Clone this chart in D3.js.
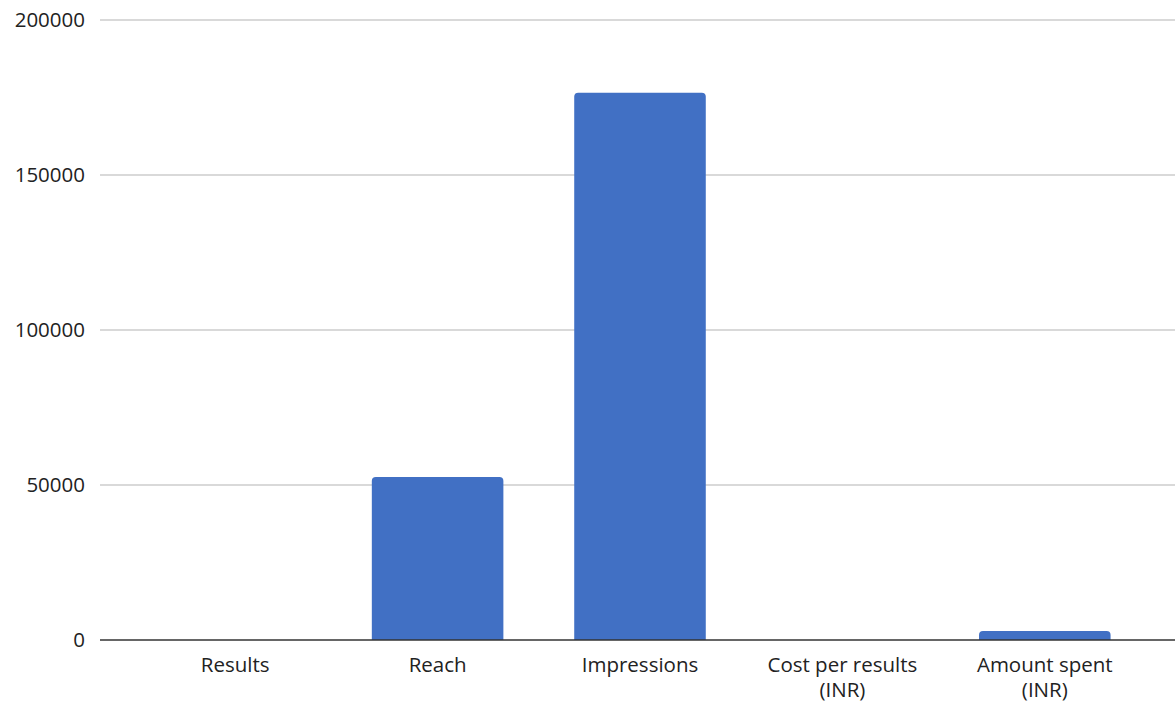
<!DOCTYPE html>
<html><head><meta charset="utf-8">
<script src="https://cdn.jsdelivr.net/npm/d3@7"></script>
<style>html,body{margin:0;padding:0;background:#fff;overflow:hidden}</style>
</head><body>
<svg id="chart" width="1175" height="702"></svg>
<script>
const categories = ["Results", "Reach", "Impressions", "Cost per results (INR)", "Amount spent (INR)"];
const categoryLines = [["Results"], ["Reach"], ["Impressions"], ["Cost per results", "(INR)"], ["Amount spent", "(INR)"]];
const values = [30, 52600, 176500, 25, 2900];
const yTicks = [0, 50000, 100000, 150000, 200000];

const svg = d3.select("#chart");
const font = "'Open Sans', sans-serif";
const fs = 20.5;
const x = d3.scaleBand().domain(categories).range([134, 1146]).paddingInner(0.35).paddingOuter(0.175);
const y = d3.scaleLinear().domain([0, 200000]).range([640, 20]);

// gridlines
svg.append("g").selectAll("line").data(yTicks.filter(d => d !== 0)).join("line")
  .attr("x1", 100).attr("x2", 1175)
  .attr("y1", d => y(d)).attr("y2", d => y(d))
  .attr("stroke", "#cccccc").attr("stroke-width", 1.5);

// y labels
const yAxis = d3.axisLeft(y).tickValues(yTicks).tickSize(0).tickPadding(0).tickFormat(d3.format("d"));
const yg = svg.append("g").attr("transform", "translate(85,0)").call(yAxis);
yg.select(".domain").remove();
yg.selectAll("text").attr("font-family", font).attr("font-size", fs).attr("fill", "#222");

// bars with rounded top corners
const r = 4;
function barPath(d, i) {
  const x0 = x(categories[i]), w = x.bandwidth();
  const y0 = y(d), yb = y(0);
  const h = yb - y0;
  const rr = Math.min(r, h, w / 2);
  return `M${x0},${yb}V${y0 + rr}Q${x0},${y0} ${x0 + rr},${y0}H${x0 + w - rr}Q${x0 + w},${y0} ${x0 + w},${y0 + rr}V${yb}Z`;
}
svg.append("g").selectAll("path").data(values).join("path")
  .attr("d", (d, i) => barPath(d, i))
  .attr("fill", "#4170c4");

// baseline
svg.append("line").attr("x1", 100).attr("x2", 1175).attr("y1", y(0)).attr("y2", y(0))
  .attr("stroke", "#333").attr("stroke-width", 1.5);

// x labels
const xAxis = d3.axisBottom(x).tickSize(0).tickPadding(0).tickFormat("");
const xg = svg.append("g").attr("transform", `translate(0,${y(0)})`).call(xAxis);
xg.select(".domain").remove();
xg.selectAll(".tick").each(function(d, i) {
  const t = d3.select(this).append("text")
    .attr("text-anchor", "middle").attr("font-family", font).attr("font-size", fs).attr("fill", "#222");
  categoryLines[i].forEach((line, j) => {
    t.append("tspan").attr("x", 0).attr("y", 32 + j * 25).text(line);
  });
});
</script>
</body></html>
